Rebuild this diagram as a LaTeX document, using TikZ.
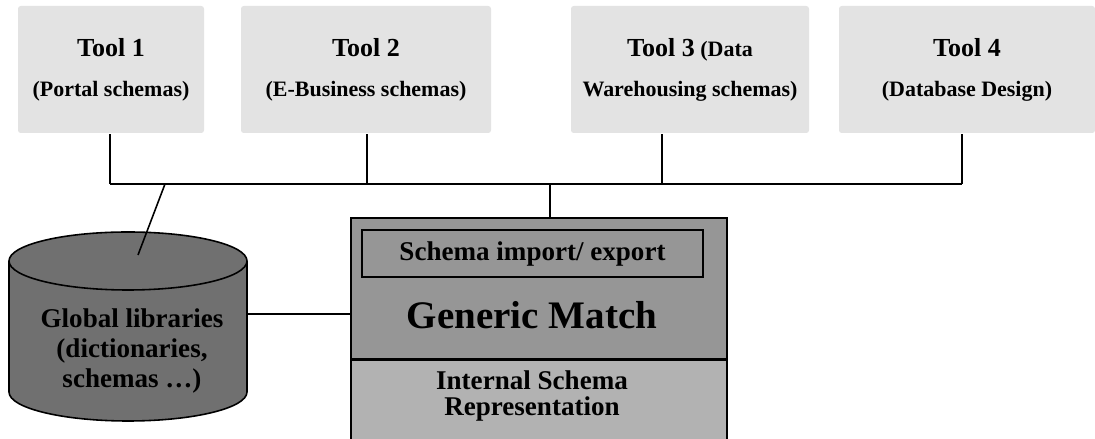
\documentclass[tikz,border=0pt]{standalone}
\usepackage{fontspec}
\setmainfont{Liberation Serif}

\definecolor{toolgray}{gray}{0.89}
\definecolor{matchgray}{gray}{0.59}
\definecolor{reprgray}{gray}{0.70}
\definecolor{libgray}{gray}{0.44}

\begin{document}
\begin{tikzpicture}[
  line width=0.9pt,
  tool/.style={fill=toolgray, rounded corners=1.5pt, align=center, minimum height=2.54cm, inner sep=0pt, font=\bfseries\fontsize{12.5}{22.8}\selectfont},
  part/.style={draw, minimum width=7.52cm, inner sep=0pt},
  big/.style={align=center, font=\bfseries\fontsize{15.4}{17}\selectfont},
]
\useasboundingbox (0,0) rectangle (21.9,8.78);

\begin{scope}
	\node [tool, minimum width=3.72cm] (tool1) at (2.22,7.39) {{\fontsize{14.8}{22.8}\selectfont Tool 1}\\(Portal schemas)};
	\node [tool, minimum width=5.00cm] (tool2) at (7.32,7.39) {{\fontsize{14.8}{22.8}\selectfont Tool 2}\\(E-Business schemas)};
	\node [tool, minimum width=4.76cm] (tool3) at (13.80,7.39) {{\fontsize{14.8}{22.8}\selectfont Tool 3} (Data\\Warehousing schemas)};
	\node [tool, minimum width=5.12cm] (tool4) at (19.34,7.39) {{\fontsize{14.8}{22.8}\selectfont Tool 4}\\(Database Design)};

	\coordinate (j1) at (2.20,5.10);
	\coordinate (j2) at (7.34,5.10);
	\coordinate (j3) at (13.24,5.10);
	\coordinate (j4) at (19.24,5.10);
	\coordinate (jl) at (3.30,5.10);
	\coordinate (jg) at (11.00,5.10);

	\draw (j1) -- (j4);
	\foreach \i in {1,...,4}
		\draw (j\i) -- (j\i |- tool\i.south);
\end{scope}

\begin{scope}
	\node [part, fill=matchgray, minimum height=2.82cm] (gm) at (10.78,3.01) {};
	\node [part, fill=reprgray, minimum height=1.8cm, anchor=north] (reprbox) at (gm.south) {};
	\node [draw, minimum width=6.82cm, minimum height=0.94cm, inner sep=0pt, font=\bfseries\fontsize{15.4}{17}\selectfont] (io) at (10.65,3.71) {Schema import/ export};
	\node [font=\bfseries\fontsize{22.2}{26}\selectfont] (gmlabel) at (10.64,2.48) {Generic Match};
	\node [big, inner sep=0pt, font=\bfseries\fontsize{15.4}{14.8}\selectfont] (repr) at (10.64,0.86) {Internal Schema\\Representation};

	\draw (jg) -- (jg |- gm.north);
\end{scope}

\begin{scope}
	\draw [fill=libgray] (0.18,3.56) -- (0.18,0.94) arc (180:360:2.38 and 0.58) -- (4.94,3.56) arc (0:180:2.38 and 0.58) -- cycle;
	\draw (0.18,3.56) arc (180:360:2.38 and 0.58);
	\node [big] (lib) at (2.64,1.76) {Global libraries\\(dictionaries,\\schemas …)};

	\coordinate (libtop) at (2.76,3.68);
	\coordinate (libside) at (4.94,2.50);
	\draw (jl) -- (libtop);
	\draw (libside) -- (libside -| gm.west);
\end{scope}

\end{tikzpicture}
\end{document}
